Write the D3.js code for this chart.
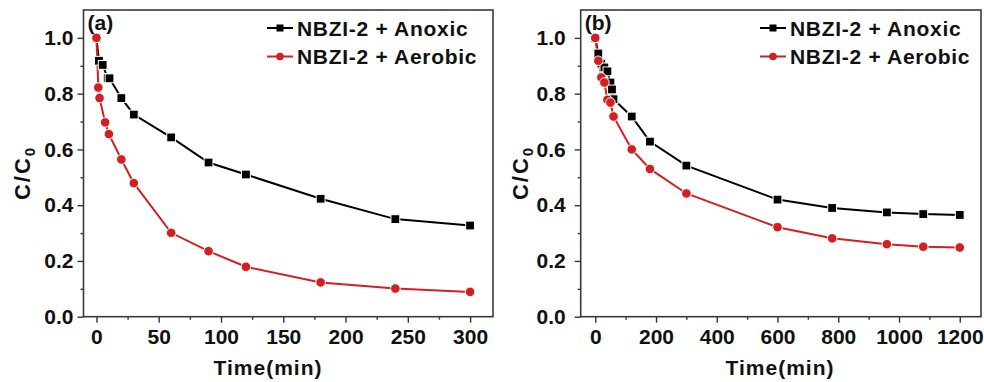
<!DOCTYPE html>
<html>
<head>
<meta charset="utf-8">
<script src="https://cdn.jsdelivr.net/npm/d3@7"></script>
<style>
  body { margin: 0; background: #fff; }
  svg text { font-family: 'Liberation Sans', Arial, sans-serif; font-weight: bold; fill: #111; }
</style>
</head>
<body>
<svg id="chart" width="984" height="382"></svg>
<script>
// panel (a): first 300 min
const timeA_anoxic = [0, 2, 5, 9, 10.5, 20, 30, 60, 90, 120, 180, 240, 300];
const ratioA_anoxic = [1.0, 0.918, 0.903, 0.856, 0.855, 0.784, 0.725, 0.643, 0.553, 0.51, 0.423, 0.35, 0.327];
const timeA_aerobic = [0, 1.5, 2.5, 7, 10, 20, 30, 60, 90, 120, 180, 240, 300];
const ratioA_aerobic = [1.0, 0.822, 0.784, 0.697, 0.655, 0.564, 0.479, 0.301, 0.235, 0.179, 0.123, 0.101, 0.089];

// panel (b): up to 1200 min
const timeB_anoxic = [0, 10, 20, 30, 40, 50, 55, 60, 120, 180, 300, 600, 780, 960, 1080, 1200];
const ratioB_anoxic = [1.0, 0.944, 0.908, 0.894, 0.88, 0.84, 0.815, 0.78, 0.718, 0.628, 0.542, 0.42, 0.39, 0.374, 0.368, 0.365];
const timeB_aerobic = [0, 10, 20, 30, 40, 50, 60, 120, 180, 300, 600, 780, 960, 1080, 1200];
const ratioB_aerobic = [1.0, 0.918, 0.858, 0.84, 0.778, 0.768, 0.718, 0.6, 0.53, 0.442, 0.321, 0.281, 0.26, 0.251, 0.248];

const seriesNames = ['NBZI-2 + Anoxic', 'NBZI-2 + Aerobic'];
const panelTitles = ['(a)', '(b)'];

const yTicks = [0, 0.2, 0.4, 0.6, 0.8, 1.0];
const yMinor = [0.1, 0.3, 0.5, 0.7, 0.9];
const xTicksA = [0, 50, 100, 150, 200, 250, 300];
const xMinorA = [25, 75, 125, 175, 225, 275];
const xTicksB = [0, 200, 400, 600, 800, 1000, 1200];
const xMinorB = [100, 300, 500, 700, 900, 1100];

const RED = '#d31f22';
const svg = d3.select('#chart');

const zip = (ts, vs) => ts.map((t, i) => ({ t: t, v: vs[i] }));

function drawPanel(p) {
  const x = d3.scaleLinear().domain(p.xDomain).range([p.left, p.right]);
  const y = d3.scaleLinear().domain([0, 1.1]).range([316.7, 10]);
  const g = svg.append('g');

  // major + minor ticks (outward), domain path removed, frame drawn later
  g.append('g')
    .attr('transform', `translate(${p.left},0)`)
    .call(d3.axisLeft(y).tickValues(yTicks).tickFormat(d3.format('.1f'))
      .tickSize(6).tickPadding(p.yPad))
    .call(a => a.select('.domain').remove())
    .call(a => a.selectAll('text').style('font-size', '21px'));
  g.append('g')
    .attr('transform', `translate(${p.left},0)`)
    .call(d3.axisLeft(y).tickValues(yMinor).tickFormat('').tickSize(3))
    .call(a => a.select('.domain').remove());
  g.append('g')
    .attr('transform', `translate(0,316.7)`)
    .call(d3.axisBottom(x).tickValues(p.xTicks).tickFormat(d3.format('d'))
      .tickSize(6).tickPadding(6))
    .call(a => a.select('.domain').remove())
    .call(a => a.selectAll('text').style('font-size', '21px').attr('dy', '0.71em'));
  g.append('g')
    .attr('transform', `translate(0,316.7)`)
    .call(d3.axisBottom(x).tickValues(p.xMinor).tickFormat('').tickSize(3))
    .call(a => a.select('.domain').remove());
  g.selectAll('.tick line').attr('stroke', '#333').attr('stroke-width', 1.4);

  g.append('rect')
    .attr('x', p.left).attr('y', 10)
    .attr('width', p.right - p.left).attr('height', 316.7 - 10)
    .attr('fill', 'none').attr('stroke', '#3a3a3a').attr('stroke-width', 1.6);

  const line = d3.line().x(d => x(d.t)).y(d => y(d.v));
  const series = [
    { data: zip(p.anoxic[0], p.anoxic[1]), color: '#000', shape: 'square' },
    { data: zip(p.aerobic[0], p.aerobic[1]), color: RED, shape: 'circle' }
  ];

  series.forEach(s => {
    g.append('path')
      .datum(s.data)
      .attr('fill', 'none')
      .attr('stroke', s.color)
      .attr('stroke-width', 2)
      .attr('d', line);
  });
  // markers on top, with a thin white rim like the original
  series.forEach(s => {
    if (s.shape === 'square') {
      g.selectAll(null).data(s.data).enter().append('rect')
        .attr('x', d => x(d.t) - 4.4).attr('y', d => y(d.v) - 4.4)
        .attr('width', 8.8).attr('height', 8.8)
        .attr('fill', s.color).attr('stroke', '#fff').attr('stroke-width', 1);
    } else {
      g.selectAll(null).data(s.data).enter().append('circle')
        .attr('cx', d => x(d.t)).attr('cy', d => y(d.v)).attr('r', 4.8)
        .attr('fill', s.color).attr('stroke', '#fff').attr('stroke-width', 1);
    }
  });

  // panel letter
  g.append('text').attr('x', p.left + 4).attr('y', 30)
    .style('font-size', '21px').text(p.title);

  // legend
  const leg = g.append('g').attr('transform', `translate(${p.legendX},0)`);
  [0, 1].forEach(i => {
    const cy = 28 + i * 28.5;
    const col = i === 0 ? '#000' : RED;
    leg.append('line').attr('x1', 0).attr('x2', 26).attr('y1', cy).attr('y2', cy)
      .attr('stroke', col).attr('stroke-width', 2);
    if (i === 0) {
      leg.append('rect').attr('x', 13 - 3.5).attr('y', cy - 3.5).attr('width', 7).attr('height', 7).attr('fill', col);
    } else {
      leg.append('circle').attr('cx', 13).attr('cy', cy).attr('r', 3.8).attr('fill', col);
    }
    leg.append('text').attr('x', 30).attr('y', cy + 7.5)
      .style('font-size', '21px').style('letter-spacing', '0.7px')
      .text(seriesNames[i]);
  });

  // axis titles
  const yl = g.append('text')
    .attr('transform', `translate(${p.yLabelX},173) rotate(-90)`)
    .attr('text-anchor', 'middle')
    .style('font-size', '22px').style('letter-spacing', '2px');
  yl.append('tspan').text('C/C');
  yl.append('tspan').attr('dy', 5).style('font-size', '15px').text('0');

  g.append('text')
    .attr('x', p.timeLabelX).attr('y', 375)
    .attr('text-anchor', 'middle')
    .style('font-size', '21px').style('letter-spacing', '1px')
    .text('Time(min)');
}

drawPanel({
  left: 83.5, right: 493, xDomain: [-10.4, 318.4],
  xTicks: xTicksA, xMinor: xMinorA, yPad: 4,
  anoxic: [timeA_anoxic, ratioA_anoxic], aerobic: [timeA_aerobic, ratioA_aerobic],
  title: panelTitles[0], legendX: 267, yLabelX: 30, timeLabelX: 268
});
drawPanel({
  left: 580.7, right: 981, xDomain: [-48, 1270],
  xTicks: xTicksB, xMinor: xMinorB, yPad: 9,
  anoxic: [timeB_anoxic, ratioB_anoxic], aerobic: [timeB_aerobic, ratioB_aerobic],
  title: panelTitles[1], legendX: 760, yLabelX: 528, timeLabelX: 780
});
</script>
</body>
</html>
